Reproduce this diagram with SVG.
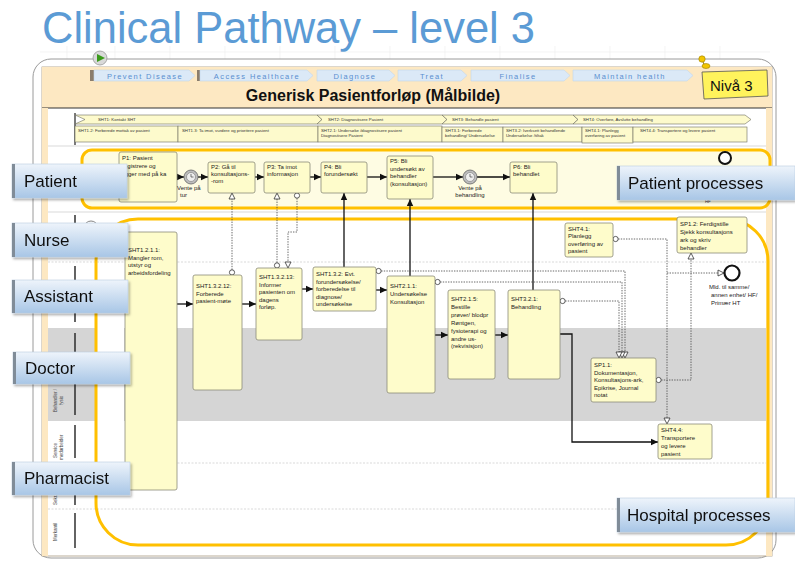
<svg xmlns="http://www.w3.org/2000/svg" width="795" height="562" viewBox="0 0 795 562">
<defs>
<linearGradient id="gl" x1="0" y1="0" x2="0" y2="1"><stop offset="0" stop-color="#eef4fb"/><stop offset="1" stop-color="#a8c6e6"/></linearGradient>
<filter id="sh" x="-10%" y="-20%" width="125%" height="150%"><feDropShadow dx="1.5" dy="2" stdDeviation="1.2" flood-color="#000" flood-opacity="0.3"/></filter>
<marker id="ah" markerUnits="userSpaceOnUse" markerWidth="8" markerHeight="8" refX="7" refY="4" orient="auto"><path d="M0,0.8 L7,4 L0,7.2 z" fill="#111"/></marker>
<marker id="mt" markerUnits="userSpaceOnUse" markerWidth="9" markerHeight="9" refX="7" refY="4" orient="auto"><path d="M1,1 L7,4 L1,7 z" fill="#fff" stroke="#333" stroke-width="0.8"/></marker>
<marker id="mc" markerUnits="userSpaceOnUse" markerWidth="8" markerHeight="8" refX="4" refY="4" orient="auto"><circle cx="4" cy="4" r="2.6" fill="#fff" stroke="#333" stroke-width="0.8"/></marker>
<style>
.nd{fill:#fefccb;stroke:#8a8a78;stroke-width:0.8}
.t{font-family:"Liberation Sans",Arial,sans-serif;font-size:6px;fill:#222}
.ts{font-family:"Liberation Sans",Arial,sans-serif;font-size:4.3px;fill:#333}
.tv{font-family:"Liberation Sans",Arial,sans-serif;font-size:4.5px;fill:#444}
.lb{fill:url(#gl);stroke:#b9cce1;stroke-width:0.6}
.lbar{fill:#808c98}
.lbt{font-family:"Liberation Sans",Arial,sans-serif;font-size:17px;fill:#111}
.fl{fill:none;stroke:#111;stroke-width:1.3;marker-end:url(#ah)}
.ms{fill:none;stroke:#444;stroke-width:0.8;stroke-dasharray:1.4 1.2;marker-start:url(#mc);marker-end:url(#mt)}
.me{fill:none;stroke:#444;stroke-width:0.8;stroke-dasharray:1.4 1.2;marker-end:url(#mt)}
.lane{fill:none;stroke:#ffc000;stroke-width:3}
.ch{fill:#dbe9f7;stroke:#c5d6e9;stroke-width:0.6}
.cht{font-family:"Liberation Sans",Arial,sans-serif;font-size:7.5px;fill:#5a8fd0;letter-spacing:1.4px;text-anchor:middle}
.sb{fill:#fdfacc;stroke:#6d6d60;stroke-width:0.6}
.sep{stroke:#cfcfcf;stroke-width:0.8;stroke-dasharray:2 1.5}
.tm{fill:#bdbdbd;stroke:#666;stroke-width:0.8}
</style>
</defs>

<!-- title -->
<text x="42" y="43" font-family="Liberation Sans, Arial, sans-serif" font-size="44" fill="#5b9bd5" textLength="493" lengthAdjust="spacingAndGlyphs">Clinical Pathway – level 3</text>

<!-- faint grid -->
<g stroke="#ececec" stroke-width="0.6">
<line x1="40" y1="52" x2="770" y2="52"/>
<line x1="67" y1="46" x2="67" y2="59"/><line x1="115" y1="46" x2="115" y2="59"/><line x1="170" y1="46" x2="170" y2="59"/><line x1="225" y1="46" x2="225" y2="59"/><line x1="280" y1="46" x2="280" y2="59"/><line x1="335" y1="46" x2="335" y2="59"/><line x1="390" y1="46" x2="390" y2="59"/><line x1="445" y1="46" x2="445" y2="59"/><line x1="500" y1="46" x2="500" y2="59"/><line x1="555" y1="46" x2="555" y2="59"/><line x1="610" y1="46" x2="610" y2="59"/><line x1="665" y1="46" x2="665" y2="59"/><line x1="720" y1="46" x2="720" y2="59"/>
</g>

<!-- frame -->
<rect x="33" y="59" width="743" height="499" rx="18" fill="#fff" stroke="#9a9a9a" stroke-width="1"/>
<rect x="42" y="67" width="730" height="489" fill="#fff" stroke="#a89a80" stroke-width="0.8"/>
<rect x="42" y="67" width="730" height="41" fill="#fde8c2"/>
<line x1="42" y1="108" x2="772" y2="108" stroke="#333" stroke-width="1"/>
<rect x="42" y="108" width="6" height="448" fill="#fde8c2"/>
<rect x="766" y="108" width="6" height="448" fill="#fde8c2"/>

<!-- start play button -->
<circle cx="100" cy="58" r="7" fill="#d9d9d9" stroke="#999" stroke-width="0.8"/>
<path d="M97,54 L105,58 L97,62 z" fill="#3a9a1a"/>

<!-- header chevrons -->
<g>
<rect x="90" y="70" width="4" height="11" fill="#8b7d6b"/>
<polygon class="ch" points="94,70 189,70 195,75.5 189,81 94,81"/>
<text class="cht" x="145" y="78.5">Prevent Disease</text>
<rect x="197" y="70" width="3" height="11" fill="#8b7d6b"/>
<polygon class="ch" points="200,70 307,70 313,75.5 307,81 200,81"/>
<text class="cht" x="257" y="78.5">Access Healthcare</text>
<polygon class="ch" points="317,70 389,70 395,75.5 389,81 317,81"/>
<text class="cht" x="355" y="78.5">Diagnose</text>
<polygon class="ch" points="398,70 461,70 467,75.5 461,81 398,81"/>
<text class="cht" x="432" y="78.5">Treat</text>
<polygon class="ch" points="471,70 564,70 570,75.5 564,81 471,81"/>
<text class="cht" x="518" y="78.5">Finalise</text>
<polygon class="ch" points="573,70 687,70 693,75.5 687,81 573,81"/>
<text class="cht" x="630" y="78.5">Maintain health</text>
</g>
<text x="373" y="101" font-family="Liberation Sans, Arial, sans-serif" font-size="16" font-weight="bold" fill="#111" text-anchor="middle">Generisk Pasientforløp (Målbilde)</text>

<!-- Nivå 3 note -->
<g id="niva3">
<polygon points="702,72 767,70 768,96 704,99" fill="#fff35c" stroke="#555" stroke-width="0.8"/>
<text x="710" y="91" font-family="Liberation Sans, Arial, sans-serif" font-size="15" fill="#111">Nivå 3</text>
<line x1="701" y1="58" x2="705" y2="66" stroke="#8a7300" stroke-width="1"/>
<circle cx="702" cy="59" r="3.2" fill="#f2c500" stroke="#9a7d00" stroke-width="0.6"/>
<ellipse cx="706" cy="66" rx="4" ry="2.5" fill="#f2c500" stroke="#9a7d00" stroke-width="0.6"/>
</g>

<!-- SHT band -->
<g id="sht-band">
<line x1="75" y1="113" x2="75" y2="145" stroke="#222" stroke-width="1.2"/>
<polygon class="sb" points="75,115 317,115 322,119.5 317,124 75,124 85,119.5"/>
<polygon class="sb" points="317,115 442,115 447,119.5 442,124 317,124 322,119.5"/>
<polygon class="sb" points="442,115 573,115 578,119.5 573,124 442,124 447,119.5"/>
<polygon class="sb" points="573,115 745,115 751,119.5 745,124 573,124 578,119.5"/>
<text class="ts" x="98" y="121.3">SHT1: Kontakt SHT</text>
<text class="ts" x="328" y="121.3">SHT2: Diagnostisere Pasient</text>
<text class="ts" x="452" y="121.3">SHT3: Behandle pasient</text>
<text class="ts" x="583" y="121.3">SHT4: Overføre, Avslutte behandling</text>
<rect class="sb" x="75" y="126" width="103" height="16"/>
<rect class="sb" x="178" y="126" width="140" height="16"/>
<rect class="sb" x="318" y="126" width="124" height="16"/>
<rect class="sb" x="442" y="127" width="61" height="15"/>
<rect class="sb" x="503" y="127" width="79" height="15"/>
<rect class="sb" x="582" y="127" width="51" height="16"/>
<rect class="sb" x="633" y="127" width="114" height="15"/>
<text class="ts" x="78" y="131.5">SHT1.2: Forberede mottak av pasient</text>
<text class="ts" x="182" y="131.5">SHT1.3: Ta imot, vurdere og prioritere pasient</text>
<text class="ts" x="321" y="131.5">SHT2.1: Undersøke /diagnostisere pasient</text>
<text class="ts" x="321" y="136.5">Diagnostisere Pasient</text>
<text class="ts" x="445" y="132">SHT3.1: Forberede</text>
<text class="ts" x="445" y="137">behandling/ Undersøkelse</text>
<text class="ts" x="506" y="132">SHT3.2: Iverksett behandlende</text>
<text class="ts" x="506" y="137">Undersøkelse /tiltak</text>
<text class="ts" x="585" y="132">SHT4.1: Planlegg</text>
<text class="ts" x="585" y="137">overføring av pasient</text>
<text class="ts" x="640" y="132">SHT4.4: Transportere og levere pasient</text>
</g>

<!-- lane backgrounds -->
<line x1="48" y1="146" x2="766" y2="146" stroke="#cfcfcf" stroke-width="0.8"/>
<line x1="48" y1="212" x2="766" y2="212" stroke="#cfcfcf" stroke-width="0.8"/>
<rect x="48" y="328" width="718" height="93" fill="#d5d5d5"/>
<rect x="97" y="328" width="27" height="93" fill="#fff"/>
<line class="sep" x1="48" y1="262" x2="766" y2="262"/>
<line class="sep" x1="48" y1="463" x2="766" y2="463"/>
<line class="sep" x1="48" y1="509" x2="766" y2="509"/>
<g stroke="#222" stroke-width="1.4">
<line x1="75" y1="215" x2="75" y2="257"/>
<line x1="75" y1="266" x2="75" y2="322"/>
<line x1="75" y1="333" x2="75" y2="415"/>
<line x1="75" y1="425" x2="75" y2="458"/>
<line x1="75" y1="468" x2="75" y2="505"/>
<line x1="75" y1="513" x2="75" y2="548"/>
</g>
<g class="tv">
<text transform="translate(57,412) rotate(-90)">Behandler /</text>
<text transform="translate(63,405) rotate(-90)">fysio</text>
<text transform="translate(57,458) rotate(-90)">Service</text>
<text transform="translate(63,460) rotate(-90)">medarbeider</text>
<text transform="translate(57,505) rotate(-90)">Sekr.</text>
<text transform="translate(57,541) rotate(-90)">Merkantil</text>
</g>
<circle cx="91" cy="228" r="7" fill="#fff" stroke="#666" stroke-width="0.8"/>

<!-- pools -->
<rect x="82" y="150" width="688" height="58" rx="10" fill="#fefce3" stroke="#ffc000" stroke-width="3"/>
<rect class="lane" x="96" y="219" width="672" height="326" rx="42"/>

<!-- connectors -->
<g id="connectors">
<path class="fl" d="M177,177 H184"/>
<path class="fl" d="M198,177 H208"/>
<path class="fl" d="M255,177 H264"/>
<path class="fl" d="M310,177 H321"/>
<path class="fl" d="M367,177 H387"/>
<path class="fl" d="M433,177 H463"/>
<path class="fl" d="M477,177 H510"/>
<path class="fl" d="M177,304 H193"/>
<path class="fl" d="M242,304 H256"/>
<path class="fl" d="M302,289 H313"/>
<path class="fl" d="M376,290 H387"/>
<path class="fl" d="M435,335 H448"/>
<path class="fl" d="M495,335 H508"/>
<path class="fl" d="M560,334 H572 V442 H658"/>
<path class="fl" d="M344,267 V193"/>
<path class="fl" d="M410,276 V199"/>
<path class="fl" d="M533,290 V193"/>
<path class="ms" d="M232,272.4 V193"/>
<path class="ms" d="M277,265.4 V193"/>
<path class="ms" d="M297,195.6 V232 H288 V268"/>
<path class="ms" d="M378.6,271 H625 V358"/>
<path class="ms" d="M437.6,282 H622 V358"/>
<path class="ms" d="M562.6,301 H619 V358"/>
<path class="ms" d="M615.6,239 H667 V424"/>
<path class="me" d="M667,273 H724"/>
<path class="ms" d="M658.6,380 H691 V253"/>
</g>

<!-- patient nodes -->
<g id="P1"><rect class="nd" x="119" y="152" width="58" height="50" rx="2"/>
<text class="t" x="122" y="160">P1: Pasient</text><text class="t" x="122" y="168">registrere og</text><text class="t" x="122" y="175.5">ligger med på ka</text></g>
<g id="timer1"><circle class="tm" cx="191" cy="177" r="7"/><circle cx="191" cy="177" r="4.5" fill="#eee" stroke="#777" stroke-width="0.6"/><path d="M191,174 V177 H193.5" stroke="#444" stroke-width="0.7" fill="none"/>
<text class="t" x="177" y="189.5">Vente på</text><text class="t" x="180" y="196.5">tur</text></g>
<g id="P2"><rect class="nd" x="208" y="162" width="47" height="31" rx="2"/>
<text class="t" x="211" y="169">P2: Gå til</text><text class="t" x="211" y="176">konsultasjons-</text><text class="t" x="211" y="183">-rom</text></g>
<g id="P3"><rect class="nd" x="264" y="162" width="46" height="31" rx="2"/>
<text class="t" x="267" y="169">P3: Ta imot</text><text class="t" x="267" y="176">informasjon</text></g>
<g id="P4"><rect class="nd" x="321" y="162" width="46" height="31" rx="2"/>
<text class="t" x="324" y="169">P4: Bli</text><text class="t" x="324" y="176">forundersøkt</text></g>
<g id="P5"><rect class="nd" x="387" y="156" width="46" height="43" rx="2"/>
<text class="t" x="390" y="163">P5: Bli</text><text class="t" x="390" y="170.5">undersøkt av</text><text class="t" x="390" y="178">behandler</text><text class="t" x="390" y="185.5">(konsultasjon)</text></g>
<g id="timer2"><circle class="tm" cx="470" cy="177" r="7"/><circle cx="470" cy="177" r="4.5" fill="#eee" stroke="#777" stroke-width="0.6"/><path d="M470,174 V177 H472.5" stroke="#444" stroke-width="0.7" fill="none"/>
<text class="t" x="470" y="189.5" text-anchor="middle">Vente på</text><text class="t" x="470" y="197" text-anchor="middle">behandling</text></g>
<g id="P6"><rect class="nd" x="510" y="162" width="47" height="31" rx="2"/>
<text class="t" x="513" y="169">P6: Bli</text><text class="t" x="513" y="176">behandlet</text></g>
<g id="end1"><circle cx="725" cy="158" r="6" fill="#fff" stroke="#111" stroke-width="2"/>
<text class="ts" x="705" y="203">HF</text></g>

<!-- hospital nodes -->
<g id="SHT1.2.1.1"><rect class="nd" x="125" y="232" width="52" height="258" rx="2"/>
<text class="t" x="128" y="252">SHT1.2.1.1:</text><text class="t" x="128" y="259.5">Mangler rom,</text><text class="t" x="128" y="267">utstyr og</text><text class="t" x="128" y="274.5">arbeidsfordeling</text></g>
<g id="SHT1.3.2.12"><rect class="nd" x="193" y="275" width="49" height="115" rx="2"/>
<text class="t" x="196" y="288">SHT1.3.2.12:</text><text class="t" x="196" y="295.5">Forberede</text><text class="t" x="196" y="303">pasient-møte</text></g>
<g id="SHT1.3.2.13"><rect class="nd" x="256" y="268" width="46" height="72" rx="2"/>
<text class="t" x="259" y="279">SHT1.3.2.13:</text><text class="t" x="259" y="286.5">Informer</text><text class="t" x="259" y="294">pasienten om</text><text class="t" x="259" y="301.5">dagens</text><text class="t" x="259" y="309">forløp.</text></g>
<g id="SHT1.3.2"><rect class="nd" x="313" y="267" width="63" height="44" rx="2"/>
<text class="t" x="316" y="276">SHT1.3.2: Evt.</text><text class="t" x="316" y="283.5">forundersøkelse/</text><text class="t" x="316" y="291">forberedelse til</text><text class="t" x="316" y="298.5">diagnose/</text><text class="t" x="316" y="306">undersøkelse</text></g>
<g id="SHT2.1.1"><rect class="nd" x="387" y="276" width="48" height="117" rx="2"/>
<text class="t" x="390" y="288">SHT2.1.1:</text><text class="t" x="390" y="296">Undersøkelse</text><text class="t" x="390" y="304">Konsultasjon</text></g>
<g id="SHT2.1.5"><rect class="nd" x="448" y="290" width="47" height="89" rx="2"/>
<text class="t" x="451" y="301">SHT2.1.5:</text><text class="t" x="451" y="309">Bestille</text><text class="t" x="451" y="317">prøver/ blodpr</text><text class="t" x="451" y="325">Røntgen,</text><text class="t" x="451" y="333">fysioterapi og</text><text class="t" x="451" y="341">andre us-</text><text class="t" x="451" y="348">(rekvisisjon)</text></g>
<g id="SHT3.2.1"><rect class="nd" x="508" y="290" width="52" height="89" rx="2"/>
<text class="t" x="511" y="301">SHT3.2.1:</text><text class="t" x="511" y="309">Behandling</text></g>
<g id="SHT4.1"><rect class="nd" x="565" y="223" width="48" height="34" rx="2"/>
<text class="t" x="568" y="230.5">SHT4.1:</text><text class="t" x="568" y="238">Planlegg</text><text class="t" x="568" y="245.5">overføring av</text><text class="t" x="568" y="253">pasient</text></g>
<g id="SP1.2"><rect class="nd" x="677" y="217" width="70" height="36" rx="2"/>
<text class="t" x="680" y="226">SP1.2: Ferdigstille</text><text class="t" x="680" y="234">Sjekk konsultasjons</text><text class="t" x="680" y="242">ark og skriv</text><text class="t" x="680" y="250">behandler</text></g>
<g id="end2"><circle cx="732" cy="273" r="7.5" fill="#fff" stroke="#111" stroke-width="2.2"/>
<text class="t" x="709" y="289">Mld. til samme/</text><text class="t" x="711" y="297">annen enhet/ HF/</text><text class="t" x="711" y="305">Primær HT</text></g>
<g id="SP1.1"><rect class="nd" x="591" y="358" width="65" height="44" rx="2"/>
<text class="t" x="594" y="367">SP1.1:</text><text class="t" x="594" y="374.5">Dokumentasjon,</text><text class="t" x="594" y="382">Konsultasjons-ark,</text><text class="t" x="594" y="389.5">Epikrise, Journal</text><text class="t" x="594" y="397">notat</text></g>
<g id="SHT4.4"><rect class="nd" x="658" y="424" width="54" height="35" rx="2"/>
<text class="t" x="661" y="432">SHT4.4:</text><text class="t" x="661" y="440">Transportere</text><text class="t" x="661" y="448">og levere</text><text class="t" x="661" y="456">pasient</text></g>

<!-- overlay labels -->
<g id="lbl-patient" filter="url(#sh)"><rect class="lb" x="12" y="164" width="115" height="34"/><rect class="lbar" x="12" y="164" width="3" height="34"/><text class="lbt" x="24" y="187">Patient</text></g>
<g id="lbl-nurse" filter="url(#sh)"><rect class="lb" x="12" y="223" width="116" height="34"/><rect class="lbar" x="12" y="223" width="3" height="34"/><text class="lbt" x="24" y="246">Nurse</text></g>
<g id="lbl-assistant" filter="url(#sh)"><rect class="lb" x="12" y="280" width="116" height="33"/><rect class="lbar" x="12" y="280" width="3" height="33"/><text class="lbt" x="24" y="302">Assistant</text></g>
<g id="lbl-doctor" filter="url(#sh)"><rect class="lb" x="13" y="352" width="117" height="32"/><rect class="lbar" x="13" y="352" width="3" height="32"/><text class="lbt" x="25" y="374">Doctor</text></g>
<g id="lbl-pharmacist" filter="url(#sh)"><rect class="lb" x="12" y="462" width="118" height="33"/><rect class="lbar" x="12" y="462" width="3" height="33"/><text class="lbt" x="24" y="484">Pharmacist</text></g>
<g id="lbl-pp" filter="url(#sh)"><rect class="lb" x="617" y="166" width="178" height="34"/><rect class="lbar" x="617" y="166" width="3" height="34"/><text class="lbt" x="628" y="189">Patient processes</text></g>
<g id="lbl-hp" filter="url(#sh)"><rect class="lb" x="617" y="498" width="178" height="34"/><rect class="lbar" x="617" y="498" width="3" height="34"/><text class="lbt" x="627" y="521">Hospital processes</text></g>
</svg>
